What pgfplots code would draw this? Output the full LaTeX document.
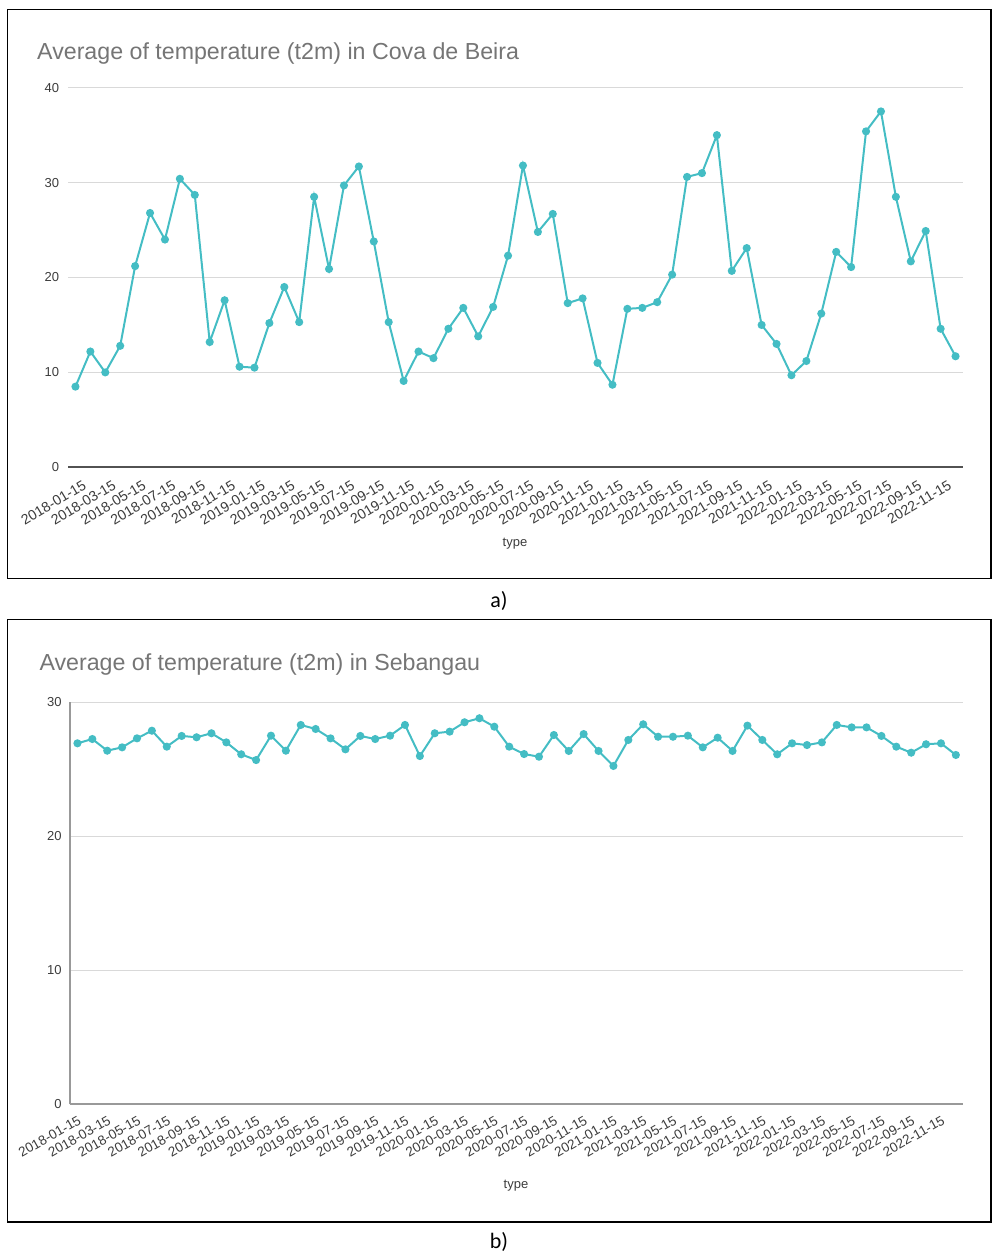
\documentclass[border=0pt]{standalone}
\usepackage{pgfplots}
\pgfplotsset{compat=1.18}
\usepackage{pgfplotstable}
\usepackage{fontspec}
\setmainfont{Liberation Sans}
\newfontfamily\carlito{Carlito}
\definecolor{teal1}{RGB}{68,189,196}
\definecolor{titlegray}{RGB}{117,117,117}
\definecolor{tickgray}{RGB}{60,60,60}
\definecolor{gridgray}{RGB}{217,217,217}

\pgfplotstableread{
i t
0 8.5
1 12.2
2 10.0
3 12.8
4 21.2
5 26.8
6 24.0
7 30.4
8 28.7
9 13.2
10 17.6
11 10.6
12 10.5
13 15.2
14 19.0
15 15.3
16 28.5
17 20.9
18 29.7
19 31.7
20 23.8
21 15.3
22 9.1
23 12.2
24 11.5
25 14.6
26 16.8
27 13.8
28 16.9
29 22.3
30 31.8
31 24.8
32 26.7
33 17.3
34 17.8
35 11.0
36 8.7
37 16.7
38 16.8
39 17.4
40 20.3
41 30.6
42 31.0
43 35.0
44 20.7
45 23.1
46 15.0
47 13.0
48 9.7
49 11.2
50 16.2
51 22.7
52 21.1
53 35.4
54 37.5
55 28.5
56 21.7
57 24.9
58 14.6
59 11.7
}\covadata

\pgfplotstableread{
i t
0 26.94
1 27.26
2 26.39
3 26.64
4 27.31
5 27.88
6 26.69
7 27.49
8 27.39
9 27.69
10 27.01
11 26.12
12 25.69
13 27.51
14 26.39
15 28.31
16 28.01
17 27.31
18 26.49
19 27.49
20 27.26
21 27.51
22 28.31
23 25.99
24 27.69
25 27.81
26 28.51
27 28.81
28 28.18
29 26.69
30 26.14
31 25.94
32 27.56
33 26.37
34 27.63
35 26.37
36 25.25
37 27.19
38 28.36
39 27.43
40 27.43
41 27.51
42 26.64
43 27.36
44 26.37
45 28.26
46 27.19
47 26.12
48 26.94
49 26.81
50 27.01
51 28.31
52 28.13
53 28.13
54 27.49
55 26.69
56 26.24
57 26.87
58 26.94
59 26.07
}\sebdata

\pgfplotsset{
  gsheet/.style={
    scale only axis,
    anchor=south west,
    at={(0pt,0pt)},
    xmin=-0.5, xmax=59.5,
    ymin=0,
    xtick={0,2,...,58},
    xticklabels={2018-01-15,2018-03-15,2018-05-15,2018-07-15,2018-09-15,2018-11-15,
      2019-01-15,2019-03-15,2019-05-15,2019-07-15,2019-09-15,2019-11-15,
      2020-01-15,2020-03-15,2020-05-15,2020-07-15,2020-09-15,2020-11-15,
      2021-01-15,2021-03-15,2021-05-15,2021-07-15,2021-09-15,2021-11-15,
      2022-01-15,2022-03-15,2022-05-15,2022-07-15,2022-09-15,2022-11-15},
    major tick length=0pt,
    tick style={draw=none},
    ymajorgrids,
    grid style={color=gridgray, line width=1pt},
    axis x line*=bottom,
    axis y line*=left,
    x axis line style={-},
    y axis line style={-},
    /pgf/number format/assume math mode=true,
    yticklabel style={font=\fontsize{13}{13}\selectfont, text=tickgray, inner sep=0pt, anchor=east},
    xticklabel style={text=tickgray, inner sep=0pt},
  },
  tealline/.style={color=teal1, line width=2pt, mark=*, mark size=3pt, mark options={solid, fill=teal1, draw=teal1}},
}

\begin{document}
\begin{tikzpicture}[x=1pt,y=1pt]
\path (0,0) rectangle (993,-1257);
% panel a
\draw[line width=1.8pt] (7.5,-9.5) rectangle (991,-578.5);
\node[anchor=base west, text=titlegray, font=\fontsize{23.2}{23.2}\selectfont, inner sep=0pt] at (37,-59.3) {Average of temperature (t2m) in Cova de Beira};
\begin{scope}[shift={(68pt,-467.3pt)}]
\begin{axis}[gsheet,
  width=895pt, height=379.6pt,
  ymax=40, ytick={0,10,20,30,40},
  x axis line style={color=black!68, line width=2pt},
  y axis line style={draw=none},
  yticklabel style={xshift=-8.7pt},
  xticklabel style={font=\fontsize{14.2}{14.2}\selectfont, xshift=6.7pt, yshift=-12pt, rotate=31, anchor=north east},
]
\addplot[tealline] table[x=i, y=t] {\covadata};
\end{axis}
\end{scope}
\node[text=tickgray, font=\fontsize{13}{13}\selectfont] at (515,-544) {type};
\node[font=\carlito\fontsize{22}{22}\selectfont] at (499,-601) {a)};
% panel b
\draw[line width=1.8pt] (7.5,-619.5) rectangle (991,-1222);
\node[anchor=base west, text=titlegray, font=\fontsize{23.2}{23.2}\selectfont, inner sep=0pt] at (39.3,-670) {Average of temperature (t2m) in Sebangau};
\begin{scope}[shift={(70pt,-1104.3pt)}]
\begin{axis}[gsheet,
  width=893.3pt, height=402pt,
  ymax=30, ytick={0,10,20,30},
  x axis line style={color=black!40, line width=2pt},
  y axis line style={color=black!40, line width=2pt},
  yticklabel style={xshift=-8.3pt},
  xticklabel style={font=\fontsize{13.5}{13.5}\selectfont, xshift=0pt, yshift=-10.7pt, rotate=29.5, anchor=north east},
]
\addplot[tealline] table[x=i, y=t] {\sebdata};
\end{axis}
\end{scope}
\node[text=tickgray, font=\fontsize{13}{13}\selectfont] at (516,-1186) {type};
\node[font=\carlito\fontsize{22}{22}\selectfont] at (499,-1242) {b)};
\end{tikzpicture}
\end{document}
